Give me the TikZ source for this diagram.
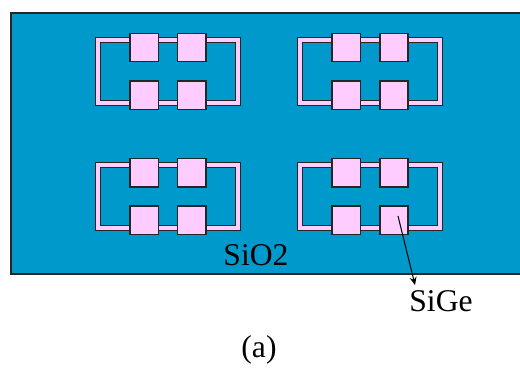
\documentclass[tikz,border=0pt]{standalone}
\usepackage{fontspec}
\setmainfont{Liberation Serif}
\usetikzlibrary{arrows.meta,positioning}
\definecolor{oxide}{HTML}{0099CC}
\definecolor{sige}{HTML}{FFCCFF}
\begin{document}
\begin{tikzpicture}[x=.02cm, y=-.02cm, >={Stealth[length=.16cm,width=.14cm]},
	   ring/.style={draw=black!85, line width=.022cm, double=sige, double distance=.076cm, outer sep=0pt, inner sep=0pt, minimum width=2.79cm, minimum height=1.25cm},
	   pad/.style={draw=black!85, line width=.03cm, fill=sige, outer sep=0pt, inner sep=0pt, minimum size=.57cm},
	   lbl/.style={font=\fontsize{18pt}{20pt}\selectfont, inner sep=0pt}]
	  \useasboundingbox (0,0) rectangle (520,372);
	  \draw[draw=black!85, line width=.03cm, fill=oxide] (11,13) rectangle (530,274);
	  % four identical cells
	  \foreach \cx/\cy/\id in {168/71.5/a, 370/71.5/b, 168/196.5/c, 370/196.5/d}{
	    \node[ring] (ring\id) at (\cx,\cy) {};
	    \node[pad] (tl\id) at (\cx-24,\cy-24) {};
	    \node[pad, right=.39cm of tl\id] (tr\id) {};
	    \node[pad, below=.39cm of tl\id] (bl\id) {};
	    \node[pad, right=.39cm of bl\id] (br\id) {};
	  }
	  \node[lbl] (oxlbl) at (256,255) {SiO2};
	  \node[lbl] (gelbl) at (441,301) {SiGe};
	  \node[lbl] (cap) at (259,350) {(a)};
	  \draw[->, line width=.6pt] ([shift={(.08cm,.09cm)}]brd.center) -- ([xshift=.12cm,yshift=.1cm]gelbl.north west);
	\end{tikzpicture}
\end{document}
